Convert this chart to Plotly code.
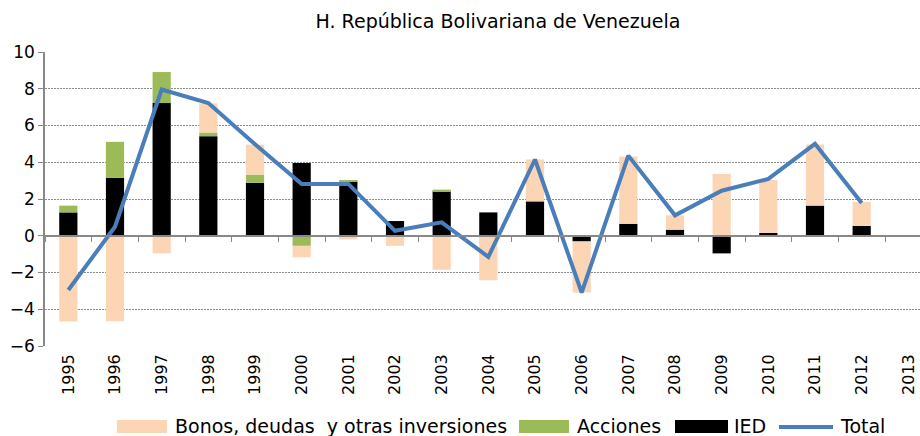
import plotly.graph_objects as go

years = [str(y) for y in range(1995, 2014)]
ied = [1.27, 3.15, 7.22, 5.42, 2.89, 3.96, 2.96, 0.80, 2.42, 1.27, 1.87, -0.31, 0.65, 0.33, -0.96, 0.15, 1.64, 0.53, None]
acciones = [0.37, 1.96, 1.69, 0.20, 0.44, -0.55, 0.04, 0.0, 0.09, -0.05, 0.0, 0.0, 0.0, 0.0, 0.0, 0.0, 0.0, 0.0, None]
bonos = [-4.67, -4.65, -0.96, 1.58, 1.63, -0.62, -0.20, -0.55, -1.85, -2.37, 2.28, -2.78, 3.66, 0.78, 3.36, 2.90, 3.32, 1.31, None]
total = [-2.95, 0.49, 7.96, 7.22, 4.98, 2.82, 2.82, 0.27, 0.73, -1.15, 4.15, -3.09, 4.36, 1.11, 2.45, 3.09, 5.00, 1.78, None]
yticks = [-6, -4, -2, 0, 2, 4, 6, 8, 10]

series_names = ["Bonos, deudas  y otras inversiones", "Acciones", "IED", "Total"]
series_colors = ["#FCD5B5", "#9BBB59", "#000000", "#4A7EBB"]

FONT = "DejaVu Sans"
W, H = 920, 436
ML, MR, MT, MB = 45, 0, 52, 90
PW, PH = W - ML - MR, H - MT - MB

fig = go.Figure()
fig.add_trace(go.Bar(x=years, y=ied, name=series_names[2], marker_color=series_colors[2],
                     marker_line_width=0, width=0.39, showlegend=False))
fig.add_trace(go.Bar(x=years, y=acciones, name=series_names[1], marker_color=series_colors[1],
                     marker_line_width=0, width=0.39, showlegend=False))
fig.add_trace(go.Bar(x=years, y=bonos, name=series_names[0], marker_color=series_colors[0],
                     marker_line_width=0, width=0.39, showlegend=False))
fig.add_trace(go.Scatter(x=years, y=total, name=series_names[3], mode="lines",
                         line=dict(color=series_colors[3], width=4), showlegend=False))
fig.add_trace(go.Scatter(x=years, y=[None]*len(years), xaxis="x2", showlegend=False, hoverinfo="skip"))

# custom legend (pixel positions converted to paper coords)
def px(xp):
    return (xp - ML) / PW
def py(yp):
    return (H - MB - yp) / PH

legend_items = [(117, 167, 173), (519, 569, 575), (675, 728, 732), (779, 833, 838)]
shapes = []
annotations = []
for i, (x0, x1, xt) in enumerate(legend_items):
    if i < 3:
        shapes.append(dict(type="rect", xref="paper", yref="paper", x0=px(x0), x1=px(x1),
                           y0=py(433), y1=py(420), fillcolor=series_colors[i], line_width=0))
    else:
        shapes.append(dict(type="line", xref="paper", yref="paper", x0=px(x0), x1=px(x1),
                           y0=py(427), y1=py(427), line=dict(color=series_colors[i], width=4)))
    annotations.append(dict(text=series_names[i], xref="paper", yref="paper", x=px(xt), y=py(426),
                            xanchor="left", yanchor="middle", showarrow=False,
                            font=dict(family=FONT, size=19, color="#000000")))

fig.update_layout(
    width=W, height=H,
    barmode="relative",
    plot_bgcolor="white", paper_bgcolor="white",
    margin=dict(l=ML, r=MR, t=MT, b=MB, autoexpand=False),
    font=dict(family=FONT, size=17, color="#000000"),
    title=dict(text="H. República Bolivariana de Venezuela", x=498 / W, xanchor="center",
               y=1 - 21 / H, yanchor="middle", yref="container", xref="container",
               font=dict(family=FONT, size=19, color="#000000")),
    showlegend=False,
    shapes=shapes,
    annotations=annotations,
    xaxis=dict(type="category", range=[-0.5, 18.25], tickangle=-90, showline=False,
               ticks="", showgrid=False, automargin=False, ticklabelstandoff=4,
               tickfont=dict(family=FONT, size=16)),
    xaxis2=dict(type="category", range=[-0.5, 18.25], overlaying="x", anchor="free",
                position=0.375, showline=True, linecolor="#888888", linewidth=1.5,
                ticks="outside", ticklen=5, tickcolor="#888888", tickson="boundaries",
                showticklabels=False, showgrid=False, side="bottom", matches="x",
                automargin=False),
    yaxis=dict(range=[-6, 10], tickvals=yticks, showgrid=True, gridcolor="#8c8c8c",
               griddash="2px,1px", gridwidth=1, zeroline=False, showline=True,
               linecolor="#888888", linewidth=1.5, ticks="outside", ticklen=5,
               tickcolor="#888888", automargin=False, tickfont=dict(family=FONT, size=17)),
)
fig.write_html("out.html", config={"displayModeBar": False},
               post_script="document.body.style.margin='0px';document.body.style.overflow='hidden';")
